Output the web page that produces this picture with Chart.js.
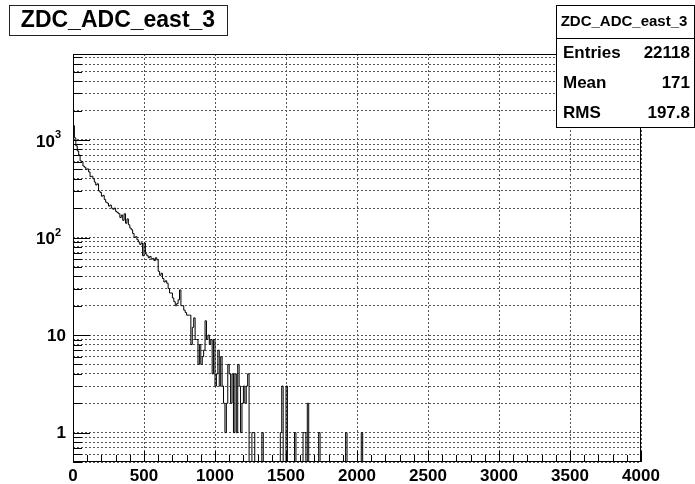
<!DOCTYPE html>
<html>
<head>
<meta charset="utf-8">
<script src="https://cdn.jsdelivr.net/npm/chart.js@4.4.1/dist/chart.umd.min.js"></script>
<style>
  html, body { margin: 0; padding: 0; background: #fff; }
  canvas { display: block; }
</style>
</head>
<body>
<canvas id="histo" width="695" height="484"></canvas>
<script>
// histogram ZDC_ADC_east_3, bins of 10 ADC counts starting at 0
const histTitle = "ZDC_ADC_east_3";
const binWidth = 10;
const binCounts = [
  4000, 1400, 1050, 870, 770, 700, 610, 600, 540, 525,
  500, 505, 470, 420, 425, 400, 370, 345, 355, 300,
  290, 265, 270, 245, 230, 225, 210, 215, 200, 195,
  200, 185, 180, 175, 160, 170, 150, 175, 140, 155,
  135, 125, 120, 110, 100, 102, 95, 90, 85, 88,
  65, 88, 68, 65, 62, 64, 60, 61, 58, 62,
  59, 45, 41, 43, 38, 35, 36, 34, 30, 27,
  27, 24, 22, 20, 21, 23, 29, 20, 20, 18,
  17, 16, 16, 16, 8, 12, 15, 9, 9, 5,
  8, 5, 6, 7, 14, 9, 10, 8, 9, 4,
  9, 3, 4, 7, 3, 6, 3, 2, 1, 2,
  5, 4, 2, 4, 1, 4, 1, 5, 3, 1,
  2, 3, 2, 3, 4, 0, 0, 1, 1, 0,
  0, 0, 0, 0, 1, 0, 0, 0, 0, 0,
  0, 0, 0, 0, 0, 0, 0, 1, 3, 0,
  0, 3, 0, 0, 0, 0, 0, 1, 0, 0,
  0, 0, 0, 1, 1, 0, 2, 0, 0, 0,
  0, 0, 0, 0, 1, 0, 0, 0, 0, 0,
  0, 0, 0, 0, 0, 0, 0, 0, 0, 0,
  0, 0, 0, 1, 0, 0, 0, 0, 0, 0,
  0, 0, 0, 0, 1, 0, 0, 0, 0, 0
];
const statLabels = ["Entries", "Mean", "RMS"];
const statValues = ["22118", "171", "197.8"];
const xTickLabels = [0, 500, 1000, 1500, 2000, 2500, 3000, 3500, 4000];
const yTickLabels = [1, 10, 100, 1000];
const xRange = [0, 4000];
const yRange = [0.5, 7600];

const FONT = '"Liberation Sans", Arial, sans-serif';
const GRID_COLOR = "#555";

// minor x ticks every 100, y ticks at 1..9 x 10^n
const xTickValues = [];
for (let v = xRange[0]; v <= xRange[1]; v += 100) xTickValues.push(v);
const yTickValues = [];
for (let e = -1; e <= 3; e++) {
    for (let m = 1; m <= 9; m++) {
        const v = Number((m * Math.pow(10, e)).toPrecision(6));
        if (v >= yRange[0] && v <= yRange[1]) yTickValues.push(v);
    }
}

// empty bins can't sit on a log axis: push them below the frame (clipped), like ROOT does
const points = binCounts.map((c, i) => ({ x: i * binWidth, y: c > 0 ? c : yRange[0] / 10 }));
points.push({ x: binCounts.length * binWidth, y: yRange[0] / 10 });

const rootStyle = {
    id: "rootStyle",
    beforeDraw(chart) {
        const ctx = chart.ctx;
        ctx.save();
        ctx.fillStyle = "#fff";
        ctx.fillRect(0, 0, chart.width, chart.height);
        ctx.restore();
    },
    afterDraw(chart) {
        const { ctx, chartArea: a, scales: { x, y } } = chart;
        ctx.save();
        ctx.strokeStyle = "#000";
        ctx.lineWidth = 1;

        // frame
        ctx.strokeRect(Math.round(a.left) + 0.5, Math.round(a.top) + 0.5,
            Math.round(a.right - a.left) - 1, Math.round(a.bottom - a.top) - 1);

        // tick marks inside the frame
        ctx.beginPath();
        for (const v of xTickValues) {
            const px = Math.round(x.getPixelForValue(v)) + 0.5;
            const len = xTickLabels.includes(v) ? 11 : 7;
            ctx.moveTo(px, a.bottom);
            ctx.lineTo(px, a.bottom - len);
        }
        for (const v of yTickValues) {
            const py = Math.round(y.getPixelForValue(v)) + 0.5;
            const len = yTickLabels.includes(v) ? 17 : 9;
            ctx.moveTo(a.left, py);
            ctx.lineTo(a.left + len, py);
        }
        ctx.stroke();

        // y labels, 10^n drawn with a raised exponent
        ctx.fillStyle = "#000";
        ctx.textBaseline = "middle";
        ctx.textAlign = "right";
        for (const v of yTickLabels) {
            const py = y.getPixelForValue(v);
            const exp = Math.round(Math.log10(v));
            if (exp < 2) {
                ctx.font = "bold 17px " + FONT;
                ctx.fillText(String(v), 66, py + 1);
            } else {
                ctx.font = "bold 11px " + FONT;
                ctx.fillText(String(exp), 61, py - 5);
                const w = ctx.measureText(String(exp)).width;
                ctx.font = "bold 17px " + FONT;
                ctx.fillText("10", 61 - w, py + 2);
            }
        }

        // title box
        ctx.fillStyle = "#fff";
        ctx.fillRect(9, 5, 218, 30);
        ctx.strokeStyle = "#222";
        ctx.strokeRect(9.5, 5.5, 218, 30);
        ctx.fillStyle = "#000";
        ctx.textAlign = "center";
        ctx.font = "bold 23px " + FONT;
        ctx.fillText(histTitle, 118, 21);

        // stats box
        ctx.fillStyle = "#fff";
        ctx.fillRect(556, 5, 139, 122);
        ctx.strokeStyle = "#000";
        ctx.strokeRect(556.5, 5.5, 138, 122);
        ctx.beginPath();
        ctx.moveTo(556, 38.5);
        ctx.lineTo(695, 38.5);
        ctx.stroke();
        ctx.fillStyle = "#000";
        ctx.font = "bold 15px " + FONT;
        ctx.textAlign = "center";
        ctx.fillText(histTitle, 624, 22);
        ctx.font = "bold 17px " + FONT;
        statLabels.forEach((label, i) => {
            const ry = 53 + i * 30;
            ctx.textAlign = "left";
            ctx.fillText(label, 563, ry);
            ctx.textAlign = "right";
            ctx.fillText(statValues[i], 690, ry);
        });
        ctx.restore();
    }
};

new Chart(document.getElementById("histo"), {
    type: "line",
    data: {
        datasets: [{
            data: points,
            stepped: "after",
            borderColor: "#000",
            borderWidth: 1,
            pointRadius: 0,
            fill: false,
            tension: 0
        }]
    },
    options: {
        responsive: false,
        animation: false,
        devicePixelRatio: 1,
        layout: { padding: { top: 54, right: 54, left: 0, bottom: 0 } },
        plugins: {
            legend: { display: false },
            tooltip: { enabled: false },
            title: { display: false }
        },
        scales: {
            x: {
                type: "linear",
                min: xRange[0],
                max: xRange[1],
                afterBuildTicks: (s) => { s.ticks = xTickValues.map(v => ({ value: v })); },
                afterFit: (s) => { s.height = 22; },
                grid: {
                    color: (c) => (c.tick && xTickLabels.includes(c.tick.value)) ? GRID_COLOR : "rgba(0,0,0,0)",
                    drawTicks: false,
                    lineWidth: 1
                },
                border: { display: false, dash: [2, 2] },
                ticks: {
                    autoSkip: false,
                    maxRotation: 0,
                    padding: 4,
                    color: "#000",
                    font: { family: FONT, size: 17, weight: "bold" },
                    callback: (v) => xTickLabels.includes(v) ? String(v) : ""
                }
            },
            y: {
                type: "logarithmic",
                min: yRange[0],
                max: yRange[1],
                afterBuildTicks: (s) => { s.ticks = yTickValues.map(v => ({ value: v })); },
                afterFit: (s) => { s.width = 73; },
                grid: { color: GRID_COLOR, drawTicks: false, lineWidth: 1 },
                border: { display: false, dash: [2, 2] },
                ticks: { display: false }
            }
        }
    },
    plugins: [rootStyle]
});
</script>
</body>
</html>
